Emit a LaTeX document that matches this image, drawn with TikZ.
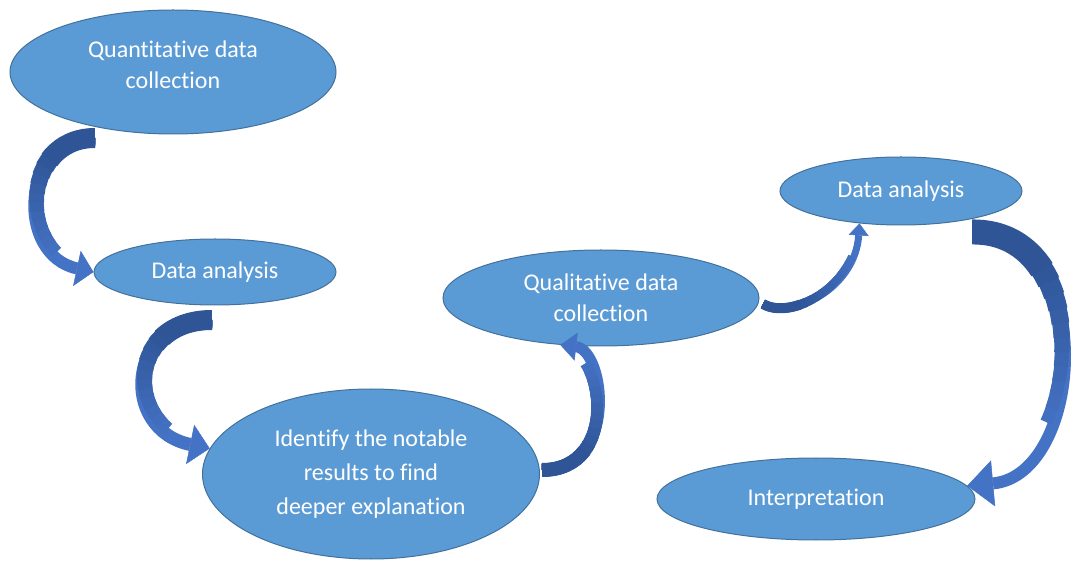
\documentclass[tikz,border=0pt]{standalone}
\usepackage{fontspec}
\setmainfont[Ligatures=NoCommon]{Carlito}
\usetikzlibrary{shapes.geometric,arrows.meta}

\definecolor{bubble}{HTML}{5B9BD5}
\definecolor{bubbleline}{HTML}{41719C}
\definecolor{bendlight}{HTML}{4472C4}
\definecolor{benddark}{HTML}{2F5597}

% curved block arrow: tip, base width, extra width at tail, path length, path
\newcommand{\bendarrow}[5]{%
  \draw[bendlight, line width=#2pt, -{Triangle[#1,line width=0.5pt]}] #5;
  \foreach \k in {1,...,12}{%
    \pgfmathsetmacro{\bw}{#2+#3*(\k/12)^2}
    \pgfmathsetmacro{\bl}{#4*(0.8-0.045*\k)}
    \pgfmathsetmacro{\bm}{100*\k/12}
    \draw[benddark!\bm!bendlight, line width=\bw pt, dash pattern=on \bl pt off 3000pt] #5;
  }}

\begin{document}
\begin{tikzpicture}[x=1pt, y=-1pt,
    stage/.style={ellipse, draw=bubbleline, line width=1pt, fill=bubble, text=white,
                  inner sep=0pt, align=center, font=\fontsize{24}{31}\selectfont}]
  \useasboundingbox (0,0) rectangle (1072,561);

  % NODES
  \node[stage, minimum width=326, minimum height=124, text depth=14pt] (qn) at (173,72) {Quantitative data\\collection};
  \node[stage, minimum width=242, minimum height=66]  (da1) at (215,272) {Data analysis};
  \node[stage, minimum width=337, minimum height=170, font=\fontsize{24}{34}\selectfont] (id) at (371,474)
        {Identify the notable\\results to find\\deeper explanation};
  \node[stage, minimum width=316, minimum height=96]  (ql)  at (601,298) {Qualitative data\\collection};
  \node[stage, minimum width=242, minimum height=68]  (da2) at (901,191) {Data analysis};
  \node[stage, minimum width=318, minimum height=82]  (int) at (816,499) {Interpretation};

  % ARROWS:
  \coordinate (a1) at (95,138);
  \coordinate (a2) at (212,320);
  \coordinate (a3) at (542,470);
  \coordinate (a4) at (763,304);
  \coordinate (a5) at (972,232);
  \bendarrow{width=36pt,length=17pt}{12}{8}{202}{(a1) .. controls (20,138) and (15,255) .. (da1.west)}
  \bendarrow{width=40pt,length=20pt}{13}{7}{208}{(a2) .. controls (125,320) and (120,430) .. (id.171)}
  \bendarrow{width=28pt,length=16pt}{11}{3}{186}{(a3) .. controls (620,470) and (605,350) .. (ql.229)}
  \bendarrow{width=20pt,length=12pt}{7}{3}{147}{(a4) .. controls (790,320) and (855,290) .. (da2.218)}
  \bendarrow{width=46pt,length=26pt}{12}{13}{320}{(a5) .. controls (1100,230) and (1085,475) .. (int.5)}
\end{tikzpicture}
\end{document}
